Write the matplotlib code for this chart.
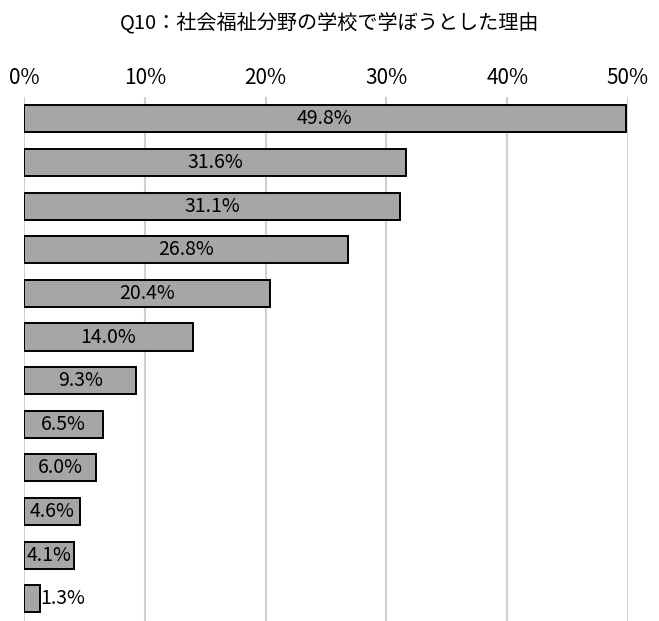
import matplotlib

matplotlib.use("Agg")
import matplotlib.pyplot as plt

TITLE = "Q10：社会福祉分野の学校で学ぼうとした理由"
values = [49.8, 31.6, 31.1, 26.8, 20.4, 14.0, 9.3, 6.5, 6.0, 4.6, 4.1, 1.3]
ticks = [0, 10, 20, 30, 40, 50]

plt.rcParams["font.family"] = ["Noto Sans CJK JP", "DejaVu Sans"]

fig = plt.figure(figsize=(6.59, 6.21), dpi=100)
ax = fig.add_axes([24 / 659, -0.003, 604 / 659, 1 - 97 / 621 + 0.003])

pos = list(range(len(values)))
ax.barh(pos, values, height=0.62, color="#a6a6a6", edgecolor="black", linewidth=1.4, zorder=3)

# labels sit inside the bar, except the tiny last one which goes beside it
for y, v in zip(pos, values):
    txt = f"{v:.1f}%"
    if v < 3:
        ax.text(v + 0.05, y, txt, ha="left", va="center", fontsize=14, zorder=4)
    else:
        ax.text(v / 2, y, txt, ha="center", va="center", fontsize=14, zorder=4)

ax.set_xlim(0, 50)
ax.set_ylim(len(values) - 0.45, -0.5)
ax.set_xticks(ticks)
ax.set_xticklabels([f"{t}%" for t in ticks], fontsize=15)
ax.xaxis.tick_top()
ax.tick_params(axis="x", length=0, pad=6)
ax.set_yticks([])
ax.grid(axis="x", color="#d0d0d0", linewidth=1.5, zorder=0)
for s in ax.spines.values():
    s.set_visible(False)

fig.text(0.5, 1 - 24 / 621, TITLE, ha="center", va="center", fontsize=14.5)

fig.savefig("out.png", dpi=100)
